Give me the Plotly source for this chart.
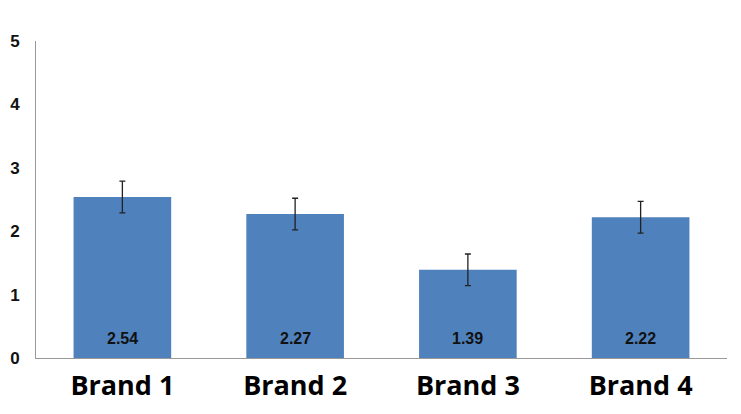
import plotly.graph_objects as go

categories = ["Brand 1", "Brand 2", "Brand 3", "Brand 4"]
values = [2.54, 2.27, 1.39, 2.22]
errors = [0.25, 0.25, 0.25, 0.25]
value_labels = ["2.54", "2.27", "1.39", "2.22"]
y_ticks = [0, 1, 2, 3, 4, 5]

fig = go.Figure()
fig.add_trace(go.Bar(
    x=categories, y=values,
    marker=dict(color="#4F81BD", line=dict(width=0)),
    width=0.565,
    error_y=dict(type="data", array=errors, visible=True, color="#222222", thickness=1.3, width=3),
    hoverinfo="skip",
))
for c, lab in zip(categories, value_labels):
    fig.add_annotation(x=c, y=0, text="<b>" + lab + "</b>", showarrow=False, yanchor="middle", yshift=20,
                       font=dict(family="Liberation Sans, Arial", size=16, color="#111111"))

fig.update_layout(
    width=733, height=406,
    margin=dict(l=28, r=14, t=33, b=56),
    plot_bgcolor="white", paper_bgcolor="white",
    showlegend=False,
    bargap=0.435,
    font=dict(family="Liberation Sans, Arial"),
)
fig.update_yaxes(range=[0, 5], tickvals=y_ticks, showgrid=False, zeroline=False,
                 showline=True, linecolor="#999999", linewidth=1, ticks="",
                 ticklabelstandoff=12, automargin=False,
                 tickfont=dict(family="Liberation Sans, Arial", size=17, color="#111111", weight="bold"))
fig.update_xaxes(showgrid=False, showline=True, linecolor="#999999", linewidth=1, ticks="",
                 ticklabelstandoff=4, automargin=False,
                 tickfont=dict(family="Open Sans", size=27, color="#000000", weight="bold"))
fig.write_html("out.html")
